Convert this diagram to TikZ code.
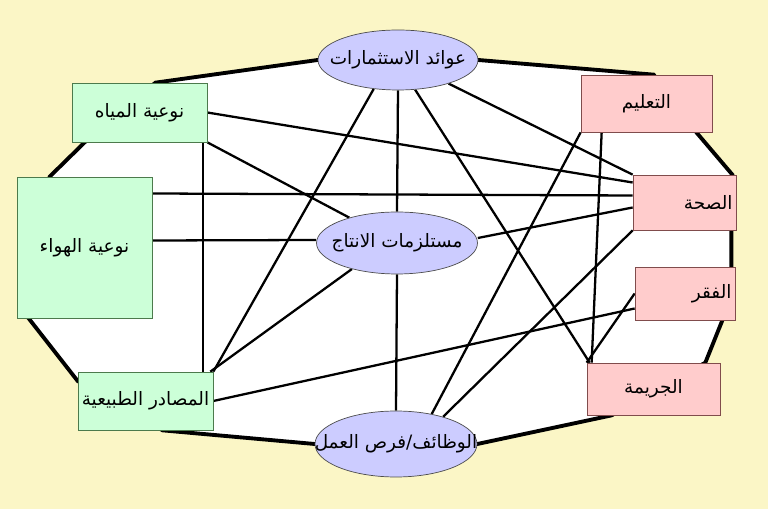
\documentclass[tikz,border=0pt]{standalone}
\usepackage{fontspec}
\usepackage{tikz}
\usetikzlibrary{shapes.geometric,calc,backgrounds}
\newfontfamily\arabicfont[Script=Arabic]{DejaVu Sans}
\TeXXeTstate=1
\newcommand{\arb}[1]{{\arabicfont\beginR #1\endR}}
\newcommand{\arbe}[1]{\makebox[0pt]{\arabicfont\beginR #1\endR}}
\definecolor{bgyellow}{RGB}{251,246,198}
\definecolor{mint}{RGB}{204,255,216}
\definecolor{rose}{RGB}{255,204,204}
\definecolor{lilac}{RGB}{204,204,255}

\begin{document}
\begin{tikzpicture}[x=0.02cm, y=-0.02cm,
  envbox/.style={draw=black!55!green!40!gray, fill=mint, inner sep=0pt, font=\fontsize{10.5}{12}\selectfont},
  socbox/.style={draw=black!50!red!40!gray, fill=rose, inner sep=0pt, font=\fontsize{10.5}{12}\selectfont},
  ecoell/.style={ellipse, draw=black!70, fill=lilac, inner sep=0pt, font=\fontsize{10.5}{12}\selectfont},
  ring/.style={line width=2.2pt},
  link/.style={line width=1.3pt}
]
  \useasboundingbox (0,0) rectangle (768,509);

  % economy
  \node[ecoell, minimum width=3.2cm, minimum height=1.2cm] (invest) at (398,60) {\arbe{عوائد الاستثمارات}};
  \node[ecoell, minimum width=3.22cm, minimum height=1.24cm] (inputs) at (397,243) {\arbe{مستلزمات الانتاج}};
  \node[ecoell, minimum width=3.24cm, minimum height=1.32cm] (jobs) at (396,444) {\arbe{الوظائف/فرص العمل}};

  % environment
  \node[envbox, minimum width=2.7cm, minimum height=1.18cm] (water) at (139.5,112.5) {\arb{نوعية المياه}};
  \node[envbox, minimum width=2.7cm, minimum height=2.82cm] (air) at (84.5,247.5) {\arb{نوعية الهواء}};
  \node[envbox, minimum width=2.7cm, minimum height=1.16cm] (natural) at (145.5,401) {\arb{المصادر الطبيعية}};

  % society
  \node[socbox, minimum width=2.62cm, minimum height=1.14cm] (school) at (646.5,103.5) {\arb{التعليم}};
  \node[socbox, minimum width=2.06cm, minimum height=1.1cm, text width=1.92cm, align=right] (health) at (684.5,202.5) {\arb{الصحة}};
  \node[socbox, minimum width=2cm, minimum height=1.06cm, text width=1.86cm, align=right] (poverty) at (685,293.5) {\arb{الفقر}};
  \node[socbox, minimum width=2.66cm, minimum height=1.04cm] (crime) at (653.5,389) {\arb{الجريمة}};

  \begin{scope}[on background layer]
    \fill[bgyellow] (0,0) rectangle (768,509);
    % outer ring
    \filldraw[ring, fill=white] (invest.west) -- ($(water.north)+(16,0)$) -- ($(water.south west)+(13,0)$)
      -- ($(air.north west)+(33,0)$) -- ($(air.south west)+(12,0)$) -- ($(natural.west)+(0,-20)$)
      -- ($(natural.south west)+(85,0)$) -- (jobs.west) -- (jobs.east) -- ($(crime.south west)+(25,0)$)
      -- ($(crime.north east)+(-15,0)$) -- ($(poverty.south east)+(-13,0)$) -- ($(poverty.north east)+(-4,0)$)
      -- ($(health.south east)+(-5,0)$) -- ($(health.north east)+(-4,0)$) -- ($(school.south east)+(-16,0)$)
      -- ($(school.north west)+(73,0)$) -- (invest.east) -- cycle;

    % links
    \draw[link] (water.east) -- ($(health.west)+(0,-20)$);
    \draw[link] (water.south east) -- (inputs.152);
    \draw[link] ($(water.south east)+(-4,0)$) -- ($(natural.north east)+(-10,0)$);
    \draw[link] ($(air.east)+(0,-54)$) -- ($(health.west)+(0,-7)$);
    \draw[link] ($(air.east)+(0,-7)$) -- ($(inputs.west)+(0,-3)$);
    \draw[link] (invest.230) -- (natural.north east);
    \draw[link] (invest.south) -- (inputs.north);
    \draw[link] (invest.300) -- ($(crime.north west)+(3,0)$);
    \draw[link] (invest.335) -- (health.north west);
    \draw[link] ($(inputs.east)+(0,-5)$) -- ($(health.west)+(0,5)$);
    \draw[link] (inputs.210) -- ($(natural.north east)+(-3,0)$);
    \draw[link] (inputs.south) -- (jobs.north);
    \draw[link] (school.south west) -- (jobs.40);
    \draw[link] ($(school.south west)+(21,0)$) -- ($(crime.north west)+(5,0)$);
    \draw[link] (health.south west) -- (jobs.30);
    \draw[link] ($(poverty.west)+(0,15)$) -- (natural.east);
    \draw[link] (poverty.west) -- (crime.north west);
  \end{scope}
\end{tikzpicture}
\end{document}
